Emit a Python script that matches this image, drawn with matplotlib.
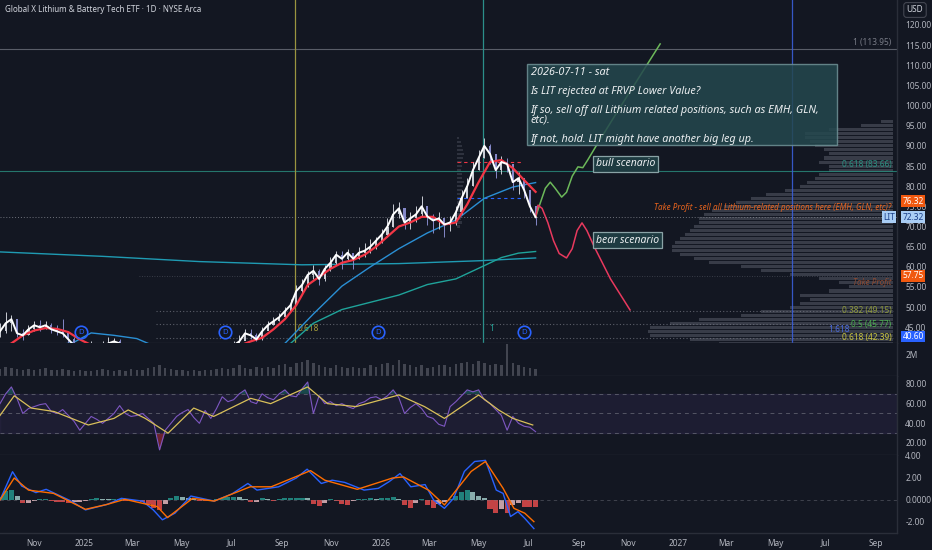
import numpy as np
import pandas as pd
import matplotlib
matplotlib.use('Agg')
import matplotlib.pyplot as plt
import matplotlib.dates as mdates
from matplotlib.patches import Rectangle
from matplotlib.transforms import blended_transform_factory

plt.rcParams['font.family'] = ['Noto Sans', 'DejaVu Sans']

BG = '#131722'
TXT = '#b2b5be'
SEP = '#2a2e39'

# ---------------- data ----------------
weeks = pd.date_range('2024-09-20', periods=95, freq='7D')

close = [44, 46, 47, 43.5, 43, 44.5, 45.5, 45, 45.5, 44.5, 44, 43.5, 42, 40.5, 39.5, 40, 40.5,
         39.5, 40, 41, 41.5, 41, 39.5, 38, 37, 36, 35, 33, 32, 34, 35, 36, 37, 36.5, 37, 37.5,
         38, 38.5, 39, 39.5, 40, 40.5, 41.5, 43.5, 43, 42, 44, 45.5, 46.5, 47.5, 49, 50.5, 54,
         55.5, 58, 59, 57, 59.5, 61, 63, 62, 63.5, 62, 63.5, 64, 65, 66.5, 68, 70, 73, 74.5, 71,
         72, 73, 75, 72.5, 71.5, 72, 70.5, 71, 73.5, 77, 80, 84, 87, 90, 88, 84, 86, 85.5, 81,
         82, 79, 75, 72.32]
high = [46, 48.8, 48, 46, 44.5, 45.5, 46.5, 46.8, 46.5, 46, 45.5, 47, 44, 42.5, 41, 41, 41.5,
        41, 41.5, 42.5, 42.3, 42, 41, 39.5, 38.5, 37.5, 36.5, 35, 33.5, 35, 36, 37, 38, 37.5, 38,
        38.5, 39, 39.5, 40, 40.5, 41, 41.5, 43, 44.5, 44.5, 43.5, 45, 46.5, 47.5, 48.5, 50, 52,
        55.5, 57, 59, 60.5, 59.5, 60.5, 62.5, 64, 64, 64.5, 63.5, 65, 66, 67, 67.5, 69.5, 72,
        75.5, 76, 74.5, 73.5, 75, 77.5, 75, 73, 73.5, 72, 72.5, 75, 79, 82, 86, 89, 92, 90.5, 88,
        87.5, 87, 85, 83.5, 82, 79, 75]
low = [42.5, 43.5, 44, 42.5, 41.8, 43, 44, 44, 44.5, 43.5, 43, 42.5, 41, 39.5, 38.5, 39, 39.5,
       38.5, 39, 40, 40.5, 40, 38.5, 37, 36, 35, 34, 31, 30.5, 32, 33.5, 35, 36, 35.5, 36, 36.5,
       37, 37.5, 38, 38.5, 39, 39.5, 40.5, 42.5, 42, 41.5, 41.8, 44.5, 45.5, 46.5, 47.5, 49, 50.5,
       53.5, 55, 57, 55.5, 56.5, 59, 60.5, 59.5, 61.5, 59.5, 62, 62.5, 63.5, 64.5, 66, 67.5, 70,
       72, 69.5, 69.5, 71, 72.5, 70.5, 68.5, 69.5, 67.5, 69, 70.5, 73, 77, 80, 84, 87, 85.5, 82,
       83, 83.5, 79, 78, 77, 73.5, 70.5]
volume = [0.7, 0.9, 0.8, 0.7, 0.6, 0.7, 0.6, 0.7, 0.8, 0.6, 0.6,
          0.7, 0.6, 0.5, 0.6, 0.5, 0.5, 0.6, 0.7, 0.6, 0.5,
          0.6, 0.5, 0.7, 0.6, 0.6, 0.8, 0.9, 1.0, 0.8, 0.7,
          0.6, 0.6, 0.5, 0.6, 0.5, 0.6, 0.6, 0.7, 0.8, 0.7,
          0.8, 1.0, 0.8, 0.7, 0.9, 0.8, 0.9, 0.8, 1.0, 1.1,
          0.9, 1.2, 1.3, 1.5, 1.2, 1.0, 0.9, 0.8, 1.0, 0.9,
          0.8, 0.9, 0.8, 0.8, 1.0, 0.9, 1.1, 1.2, 1.0, 1.5,
          1.1, 1.0, 0.9, 1.0, 0.8, 0.9, 1.0, 1.0, 0.9, 1.1,
          1.2, 1.3, 1.1, 1.4, 1.2, 1.0, 1.1, 1.0, 3.0, 1.2,
          1.0, 0.9, 0.8, 0.7]
rsi = [60, 70, 77, 65, 50, 55, 57, 59, 60, 52, 50, 54, 48, 42, 33, 40, 47, 44, 40, 45, 50, 58,
       50, 47, 48, 50, 45, 40, 13, 33, 40, 47, 51, 54, 46, 40, 53, 45, 55, 67, 62, 64, 70, 74,
       62, 60, 70, 66, 64, 70, 74, 68, 67, 75, 82, 50, 68, 60, 62, 58, 60, 57, 55, 60, 62, 66,
       67, 64, 68, 74, 66, 50, 56, 60, 55, 47, 45, 39, 37, 57, 62, 68, 74, 72, 74, 64, 60, 54,
       48, 33, 47, 40, 37, 36, 31.5]
hist = [0.3, 0.8, 0.9, 0.4, -0.3, -0.25, -0.1, 0.05, 0.05, -0.1, -0.15, -0.2, -0.25, -0.2,
        -0.15, -0.1, 0.1, 0.15, 0.1, 0.05, 0.1, 0.1, -0.05, -0.1, -0.1, -0.15, -0.4, -0.7, -0.9,
        -0.4, 0.2, 0.35, 0.3, 0.2, 0.05, -0.1, -0.1, -0.05, 0.05, 0.15, 0.25, 0.3, 0.25, 0.05,
        -0.2, -0.15, 0.15, 0.05, -0.05, 0.05, 0.15, 0.2, 0.2, 0.2, 0.15, -0.4, -0.55, -0.3, 0.05,
        -0.1, -0.35, -0.5, -0.1, 0.05, 0.1, 0.15, 0.1, 0.2, 0.2, 0.25, 0.1, -0.5, -0.7, -0.3, 0.1,
        -0.5, -0.7, -0.4, -0.2, 0.1, 0.4, 0.7, 0.9, 0.7, 0.4, 0.2, -0.8, -1.2, -0.8, -1.2, -0.5,
        -0.3, -0.6, -0.6, -0.6]

# moving averages, sampled at week numbers
ema_wk = [0, 2, 4, 6, 8, 10, 12, 14, 16, 20, 24, 28, 32, 36, 40, 44, 46, 48, 50, 52, 54, 56, 58,
          60, 62, 64, 66, 68, 70, 72, 74, 76, 78, 80, 82, 84, 86, 88, 90, 92, 94]
ema_val = [39.5, 41, 43, 44.2, 44.8, 44.6, 43.8, 42, 40.6, 40.5, 38.5, 34.5, 35.5, 37.3, 39.3,
           41.5, 42.4, 44.5, 47, 50.5, 55.5, 57.5, 59.5, 61, 61.7, 63, 65, 67.5, 70, 71, 72.4,
           72.4, 70.5, 71, 75.5, 81, 86, 86.5, 84.5, 81.5, 78.6]
sma_wk = [0, 5, 10, 13, 16, 20, 24, 26, 30, 35, 40, 45, 50, 55, 60, 65, 70, 75, 80, 85, 90, 94]
sma_val = [39.5, 40, 40.5, 41.3, 43.6, 43, 42.2, 41, 38.5, 36.5, 37, 38.8, 41, 48.3, 55.2, 60,
           64.5, 68.4, 71.6, 77, 79.8, 80.9]
slow_wk = [0, 10, 20, 30, 40, 46, 51, 55, 60, 65, 70, 75, 80, 85, 88, 91, 94]
slow_val = [38, 39, 39.5, 39, 38.5, 39.2, 41, 46, 49.4, 51.2, 53, 55.6, 57, 60.3, 62.3, 63.4, 63.8]
long_wk = [0, 18, 35, 53, 70, 84, 94]
long_val = [63.7, 62.6, 61.3, 60.5, 60.8, 61.5, 62.2]

rsi_ma_wk = [0, 2.5, 5.5, 9.5, 15.5, 20, 22.5, 25.5, 29.5, 34, 37.5, 44, 47.5, 54, 57.5, 62.5,
             70, 74.5, 78, 84, 87.5, 90, 93.5]
rsi_ma = [48, 68, 55.5, 52, 38.3, 45, 53.6, 45, 30, 55.5, 47, 65.4, 60, 77, 60, 57, 68.8, 57,
          45, 68.8, 53.6, 45, 38.3]
macd_wk = [0, 2.2, 3.8, 6.3, 8.1, 12.5, 15, 18.8, 21.3, 25, 26.9, 28.5, 30.7, 33.5, 37.6, 40.7,
           43.5, 45.1, 48.9, 52, 53.9, 56.4, 58.3, 60.5, 63.9, 66.4, 68.3, 70.2, 72.1, 74.6, 76.1,
           78, 79.6, 81.5, 83.3, 85.2, 87.1, 88.3, 89.6, 90.9, 92.1, 93.7]
macd_val = [0, 2.57, 1.27, 0.67, 0.97, -0.1, -0.9, -0.4, 0.15, -0.1, -0.9, -1.8, -1.2, 0.36,
            -0.1, 0.55, 1.5, 0.9, 1.2, 2.0, 2.8, 1.5, 1.8, 1.6, 0.9, 1.06, 1.67, 2.4, 1.2, 1.4,
            0, -0.76, 0.15, 2.6, 3.5, 3.6, 0.9, 0.6, -1.5, -1.06, -1.67, -2.6]
sig_wk = [0, 2.5, 5, 9.4, 15, 18.8, 21.9, 27.6, 29.4, 33.8, 37.6, 43.9, 47.6, 54.5, 57, 62.7,
          68.9, 70.8, 75.2, 78, 82.7, 85.2, 88.3, 90.2, 92.1, 93.7]
sig_val = [0, 2.0, 0.9, 0.6, -0.85, -0.4, 0.06, -0.6, -1.6, 0.15, -0.1, 1.2, 1.2, 2.67, 1.8,
           0.97, 2.0, 2.1, 0.9, -0.45, 2.6, 3.5, 1.06, -0.76, -1.2, -1.97]

# scenario projections
bull_dates = ['2026-07-10', '2026-07-16', '2026-07-22', '2026-07-28', '2026-08-03', '2026-08-11',
              '2026-08-17', '2026-08-24', '2026-08-31', '2026-09-06', '2026-09-12', '2026-09-23',
              '2026-10-20', '2026-11-15', '2026-12-10']
bull_val = [72.3, 76, 79.5, 81, 79.5, 77.3, 78.5, 82.5, 84.8, 84.6, 86.5, 90.2, 99, 107.3, 115.3]
bear_dates = ['2026-07-10', '2026-07-13', '2026-07-18', '2026-07-25', '2026-08-01', '2026-08-08',
              '2026-08-17', '2026-08-24', '2026-08-30', '2026-09-05', '2026-09-11', '2026-09-20',
              '2026-10-10', '2026-11-03']
bear_val = [72.3, 75.3, 74.5, 71, 66.5, 63.3, 62.2, 64.5, 69, 70.9, 69, 65, 57, 49.3]

# fixed range volume profile (relative volume per price bin)
profile_price = np.arange(41, 97)
profile_vol = [71, 83, 99, 100, 99, 91, 79, 62, 54, 42, 38, 34, 38, 26, 18, 22, 30, 42, 54, 62,
               75, 81, 87, 90, 90, 89, 87, 85, 83, 81, 79, 79, 77, 74, 69, 64, 58, 52, 44, 38,
               35, 32, 30, 26, 26, 30, 28, 26, 28, 32, 34, 36, 36, 26, 13, 5]
small_price = np.arange(70, 93)
small_vol = [4, 6, 5, 7, 8, 6, 5, 4, 5, 6, 8, 9, 7, 6, 5, 6, 7, 8, 9, 8, 6, 5, 3]

fib_levels = [113.95, 83.66, 49.15, 45.77, 42.39]
fib_labels = ['1 (113.95)', '0.618 (83.66)', '0.382 (49.15)', '0.5 (45.77)', '0.618 (42.39)']
fib_colors = ['#787b86', '#2a8f80', '#8f9a3c', '#4caf50', '#c9c43f']
dividends = ['2024-12-28', '2025-06-24', '2025-12-28', '2026-06-26']

tick_dates = ['2024-11-01', '2025-01-01', '2025-03-01', '2025-05-01', '2025-07-01', '2025-09-01',
              '2025-11-01', '2026-01-01', '2026-03-01', '2026-05-01', '2026-07-01', '2026-09-01',
              '2026-11-01', '2027-01-01', '2027-03-01', '2027-05-01', '2027-07-01', '2027-09-01']
tick_labels = ['Nov', '2025', 'Mar', 'May', 'Jul', 'Sep', 'Nov', '2026', 'Mar', 'May', 'Jul', 'Sep',
               'Nov', '2027', 'Mar', 'May', 'Jul', 'Sep']

# ---------------- figure ----------------
W, H = 932, 550
fig = plt.figure(figsize=(W / 100, H / 100), dpi=100, facecolor=BG)


def pane(y0, y1):
    return [0, 1 - y1 / H, 897 / W, (y1 - y0) / H]


ax = fig.add_axes(pane(0, 343))
axv = fig.add_axes(pane(343, 376), sharex=ax)
axr = fig.add_axes(pane(376, 455), sharex=ax)
axm = fig.add_axes(pane(455, 533), sharex=ax)

xw = mdates.date2num(weeks)


def wk(w):
    return xw[0] + np.asarray(w, dtype=float) * 7


def d(s):
    return mdates.date2num(pd.to_datetime(s))


for a in (ax, axv, axr, axm):
    a.set_facecolor(BG)
    for s in ('left', 'top'):
        a.spines[s].set_visible(False)
    for s in ('right', 'bottom'):
        a.spines[s].set_color(SEP)
        a.spines[s].set_linewidth(1)
    a.yaxis.tick_right()
    a.tick_params(axis='y', colors=TXT, labelsize=6, length=0, pad=6)
    a.tick_params(axis='x', length=0)

ax.set_xlim(d('2024-09-20'), d('2027-09-27'))
ax.set_ylim(41.1, 126.2)

# ---- main pane ----
right_edge = d('2027-09-22')
widths = np.array(profile_vol) / 100 * 301
ax.barh(profile_price, widths, left=right_edge - widths, height=0.75, color='#383c48', zorder=1)
ax.barh(small_price, small_vol, left=d('2026-04-04'), height=0.6, color='#4a4e5a', alpha=0.5, zorder=1)
ax.hlines(86, d('2026-04-04'), d('2026-06-25'), colors='#f23645', lw=0.8, ls=(0, (3, 3)), zorder=2)
ax.hlines(77, d('2026-04-04'), d('2026-06-25'), colors='#2962ff', lw=0.8, ls=(0, (3, 3)), zorder=2)

ax.axhline(fib_levels[0], color='#787b86', lw=0.8, alpha=0.7)
ax.axhline(fib_levels[1], color='#2a8f80', lw=0.8, alpha=0.8)
for lv in fib_levels[2:]:
    ax.hlines(lv, d('2025-03-31'), right_edge, colors='#787b86', lw=0.8, ls=(0, (1, 2)), alpha=0.7)
ax.hlines(57.75, d('2025-03-10'), right_edge, colors='#787b86', lw=0.6, ls=(0, (1, 2)), alpha=0.5)
ax.axhline(close[-1], color='#9598a1', lw=0.7, ls=(0, (1, 2)), alpha=0.7)

ax.axvline(d('2025-09-17'), color='#9a9440', lw=0.9)
ax.axvline(d('2026-05-06'), color='#2b8f8a', lw=0.9)
ax.axvline(d('2027-05-21'), color='#3a5fd9', lw=0.9, alpha=0.9)

lab_x = d('2027-09-20')
ax.text(lab_x, fib_levels[0] + 0.6, fib_labels[0], color=fib_colors[0], fontsize=6, ha='right', va='bottom')
ax.text(lab_x, fib_levels[1] + 0.6, fib_labels[1], color=fib_colors[1], fontsize=6, ha='right', va='bottom')
for lv, lb, cl in zip(fib_levels[2:], fib_labels[2:], fib_colors[2:]):
    ax.text(lab_x, lv, lb, color=cl, fontsize=6, ha='right', va='center', zorder=5)

bot = blended_transform_factory(ax.transData, ax.transAxes)
ax.text(d('2025-09-21'), 0.03, '0.618', color='#a8a03a', fontsize=6, va='bottom', transform=bot)
ax.text(d('2026-05-14'), 0.03, '1', color='#26a69a', fontsize=6, va='bottom', transform=bot)
ax.text(d('2027-07-04'), 0.025, '1.618', color='#4a6ae0', fontsize=6, va='bottom', transform=bot)

ax.plot(wk(long_wk), long_val, color='#1f9bb3', lw=1.0, zorder=3)
ax.plot(wk(slow_wk), slow_val, color='#1fa39a', lw=1.0, zorder=3)
ax.plot(wk(sma_wk), sma_val, color='#2a8fd4', lw=1.0, zorder=3)

c = np.array(close)
op = np.r_[c[0], c[:-1]]
col = np.where(c >= op, '#c9ccd4', '#8488c8')
ax.vlines(xw, low, high, colors=col, lw=0.7, zorder=4)
ax.bar(xw, c - op, bottom=op, width=2.6, color=col, zorder=4)
ax.plot(wk(ema_wk), ema_val, color='#f23645', lw=1.6, zorder=5)
ax.plot(xw, c, color='white', lw=1.4, zorder=6)

ax.plot(d(bull_dates), bull_val, color='#6cb85a', lw=1.1, zorder=5)
ax.plot(d(bear_dates), bear_val, color='#e8395e', lw=1.1, zorder=5)

ax.plot(d(dividends), [0.032] * len(dividends), 'o', ms=9, mfc='none', mec='#2962ff', mew=1.2,
        transform=bot, zorder=6)
for dv in dividends:
    ax.text(d(dv), 0.032, 'D', color='#2962ff', fontsize=5.5, ha='center', va='center',
            transform=bot, zorder=7)

# annotation box
ax.add_patch(Rectangle((d('2026-06-29'), 90.2), d('2027-07-15') - d('2026-06-29'), 20.1,
                       fc='#24484e', ec='#6f9296', lw=1, alpha=0.85, zorder=7))
note_x = d('2026-07-04')
notes = [(108.3, '2026-07-11 - sat'),
         (103.6, 'Is LIT rejected at FRVP Lower Value?'),
         (98.9, 'If so, sell off all Lithium related positions, such as EMH, GLN,'),
         (96.4, 'etc).'),
         (91.7, 'If not, hold. LIT might have another big leg up.')]
for yy, tx in notes:
    ax.text(note_x, yy, tx, color='#eceff1', fontsize=7.8, style='italic', va='center', zorder=8)

box_style = dict(boxstyle='square,pad=0.25', fc='#1e3b41', ec='#8aa3a6', lw=0.9)
ax.text(d('2026-09-22'), 85.6, 'bull scenario', color='#eceff1', fontsize=7.5, style='italic',
        va='center', bbox=box_style, zorder=8)
ax.text(d('2026-09-22'), 66.6, 'bear scenario', color='#eceff1', fontsize=7.5, style='italic',
        va='center', bbox=box_style, zorder=8)

ax.text(lab_x, 74.8, 'Take Profit - sell all Lithium-related positions here (EMH, GLN, etc)?',
        color='#e8641e', fontsize=5.8, style='italic', ha='right', va='center', zorder=8)
ax.text(lab_x, 56.2, 'Take Profit', color='#8d4a32', fontsize=5.8, style='italic', ha='right',
        va='center', zorder=8)

ax.set_yticks(np.arange(45, 121, 5))
ax.set_yticklabels([f'{v:.2f}' for v in np.arange(45, 121, 5)])

tag = blended_transform_factory(ax.transAxes, ax.transData)
tags = [(76.32, '#f0580f', 'white'), (57.75, '#f0580f', 'white'),
        (72.32, '#a9cdf5', '#1a3f8a'), (40.60, '#2962ff', 'white')]
for price, fc, tc in tags:
    ax.text(1.006, max(price, 42.7), f'{price:.2f}', color=tc, fontsize=6, va='center', ha='left',
            transform=tag, clip_on=False, zorder=10,
            bbox=dict(boxstyle='square,pad=0.15', fc=fc, ec='none'))
ax.text(0.998, close[-1], 'LIT', color='#1a3f8a', fontsize=6, va='center', ha='right',
        transform=tag, clip_on=False, zorder=10,
        bbox=dict(boxstyle='square,pad=0.15', fc='#a9cdf5', ec='none'))

fig.text(5 / W, 1 - 10 / H, 'Global X Lithium & Battery Tech ETF · 1D · NYSE Arca',
         color='#d1d4dc', fontsize=5.8, va='center')
fig.text(915 / W, 1 - 10 / H, 'USD', color='#d1d4dc', fontsize=6, ha='center', va='center',
         bbox=dict(boxstyle='round,pad=0.35', fc=BG, ec='#434651', lw=0.8))

# ---- volume ----
axv.bar(xw, volume, width=3, color='#4e515c', alpha=0.8)
axv.set_ylim(0, 3.14)
axv.set_yticks([2])
axv.set_yticklabels(['2M'])

# ---- RSI ----
axr.axhspan(30, 70, color='#7e57c2', alpha=0.1)
for lv in (70, 50, 30):
    axr.axhline(lv, color='#787b86', lw=0.7, ls=(0, (4, 4)), alpha=0.6)
rs = np.array(rsi, dtype=float)
axr.fill_between(xw, rs, 70, where=rs > 70, color='#26a69a', alpha=0.35, interpolate=True, lw=0)
axr.fill_between(xw, rs, 30, where=rs < 30, color='#f23645', alpha=0.4, interpolate=True, lw=0)
axr.plot(xw, rs, color='#7e57c2', lw=0.8)
axr.plot(wk(rsi_ma_wk), rsi_ma, color='#d9c05a', lw=0.9)
axr.set_ylim(7.8, 88.1)
axr.set_yticks([20, 40, 60, 80])
axr.set_yticklabels(['20.00', '40.00', '60.00', '80.00'])

# ---- MACD ----
h = np.array(hist)
prev = np.r_[0, h[:-1]]
hcol = np.where(h >= 0, np.where(h >= prev, '#26a69a', '#b2dfdb'),
                np.where(h <= prev, '#ff5252', '#ffcdd2'))
axm.axhline(0, color='#787b86', lw=0.6, ls=(0, (4, 4)), alpha=0.5)
axm.bar(xw, h, width=6.2, color=hcol, alpha=0.75)
axm.plot(wk(macd_wk), macd_val, color='#2962ff', lw=1.0)
axm.plot(wk(sig_wk), sig_val, color='#ff6d00', lw=1.0)
axm.set_ylim(-3.0, 4.09)
axm.set_yticks([-2, 0, 2, 4])
axm.set_yticklabels(['-2.00', '0.0000', '2.00', '4.00'])

for a in (ax, axv, axr):
    a.tick_params(axis='x', labelbottom=False)
axm.set_xticks(d(tick_dates))
axm.set_xticklabels(tick_labels)
axm.tick_params(axis='x', colors=TXT, labelsize=6, pad=4)
for lbl in axm.get_xticklabels():
    if lbl.get_text().isdigit():
        lbl.set_fontweight('bold')

fig.savefig('out.png', dpi=100, facecolor=BG)
